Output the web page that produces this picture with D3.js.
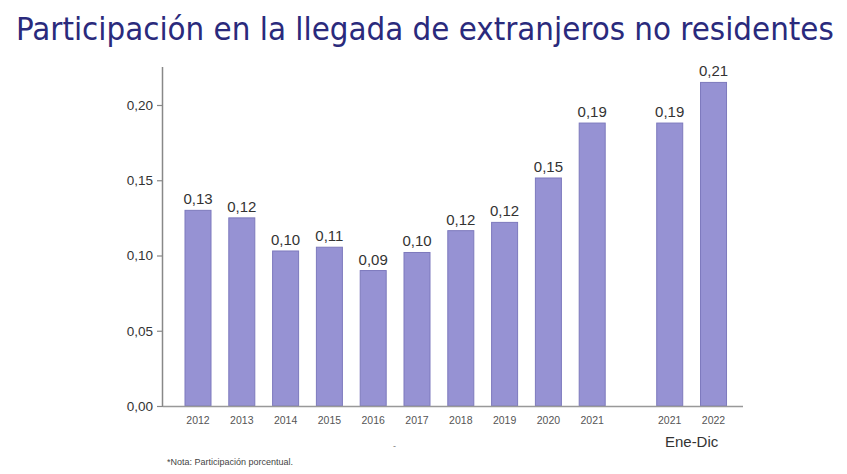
<!DOCTYPE html>
<html><head><meta charset="utf-8">
<script src="https://cdn.jsdelivr.net/npm/d3@7"></script>
<style>body{margin:0;background:#fff}svg{display:block}</style>
</head><body>
<svg id="c" width="847" height="474"></svg>
<script>
const categories = ["2012","2013","2014","2015","2016","2017","2018","2019","2020","2021","2021","2022"];
const groups = ["Anual","Anual","Anual","Anual","Anual","Anual","Anual","Anual","Anual","Anual","Ene-Dic","Ene-Dic"];
const values = [0.130,0.125,0.103,0.1055,0.090,0.102,0.1165,0.122,0.1515,0.188,0.188,0.215];
const valueLabels = ["0,13","0,12","0,10","0,11","0,09","0,10","0,12","0,12","0,15","0,19","0,19","0,21"];
const yTicks = [0,0.05,0.10,0.15,0.20];
const title = "Participación en la llegada de extranjeros no residentes";
const note = "*Nota: Participación porcentual.";
const groupLabel = "Ene-Dic";

const svg = d3.select("#c");
const barColor = "#9692d3", barStroke = "#7d79bd";

// title: condensed sans, sized to span the same width as the reference
const t = svg.append("text").attr("x",16).attr("y",40)
  .attr("font-family","'DejaVu Sans Condensed', 'DejaVu Sans'").attr("font-stretch","condensed")
  .attr("font-size",31).attr("fill","#2a2a7c").text(title);
let tw = t.node().getComputedTextLength();
t.attr("font-size", Math.min(33, 31*818/tw));

const y = d3.scaleLinear().domain([0,0.2]).range([406,105]);
// slot positions: gap before Ene-Dic group
const gapExtra = 0.77;
const pos = categories.map((c,i)=> i + (groups[i]==="Ene-Dic" ? gapExtra : 0));
const x = d3.scaleLinear().domain([0,1]).range([198,241.8]);
const bw = 26;

// y axis
const yAxis = d3.axisLeft(y).tickValues(yTicks).tickSize(6).tickPadding(4)
  .tickFormat(d=>d3.format(".2f")(d).replace(".",","));
const gy = svg.append("g").attr("transform","translate(163,0)").call(yAxis);
gy.select(".domain").attr("d","M-0.5,67V406.5").attr("stroke","#888").attr("stroke-width",1.5);
gy.selectAll(".tick line").attr("stroke","#888").attr("stroke-width",1.2);
gy.selectAll(".tick text").attr("font-family","Liberation Sans").attr("font-size",13.5).attr("fill","#333");

// bars
svg.append("g").selectAll("rect").data(values).join("rect")
  .attr("x",(d,i)=>x(pos[i])-bw/2).attr("width",bw)
  .attr("y",d=>y(d)).attr("height",d=>y(0)-y(d))
  .attr("fill",barColor).attr("stroke",barStroke).attr("stroke-width",1);

// x baseline
svg.append("line").attr("x1",163).attr("x2",743).attr("y1",y(0)+0.5).attr("y2",y(0)+0.5)
  .attr("stroke","#999").attr("stroke-width",1.5);

// value labels
svg.append("g").selectAll("text").data(values).join("text")
  .attr("x",(d,i)=>x(pos[i])).attr("y",d=>y(d)-6)
  .attr("text-anchor","middle").attr("font-family","Liberation Sans").attr("font-size",15)
  .attr("fill","#333").text((d,i)=>valueLabels[i]);

// category labels
svg.append("g").selectAll("text").data(categories).join("text")
  .attr("x",(d,i)=>x(pos[i])).attr("y",424)
  .attr("text-anchor","middle").attr("font-family","Liberation Sans").attr("font-size",10.5)
  .attr("fill","#555").text(d=>d);

// group label
const gi = groups.map((g,i)=>g==="Ene-Dic"?i:-1).filter(i=>i>=0);
svg.append("text").attr("x",(x(pos[gi[0]])+x(pos[gi[gi.length-1]]))/2).attr("y",447)
  .attr("text-anchor","middle").attr("font-family","Liberation Sans").attr("font-size",15)
  .attr("fill","#333").text(groupLabel);

svg.append("text").attr("x",393).attr("y",449).attr("font-family","Liberation Sans")
  .attr("font-size",9).attr("fill","#777").text("-");

// note
svg.append("text").attr("x",167).attr("y",465).attr("font-family","Liberation Sans")
  .attr("font-size",9).attr("fill","#444").text(note);
</script>
</body></html>
